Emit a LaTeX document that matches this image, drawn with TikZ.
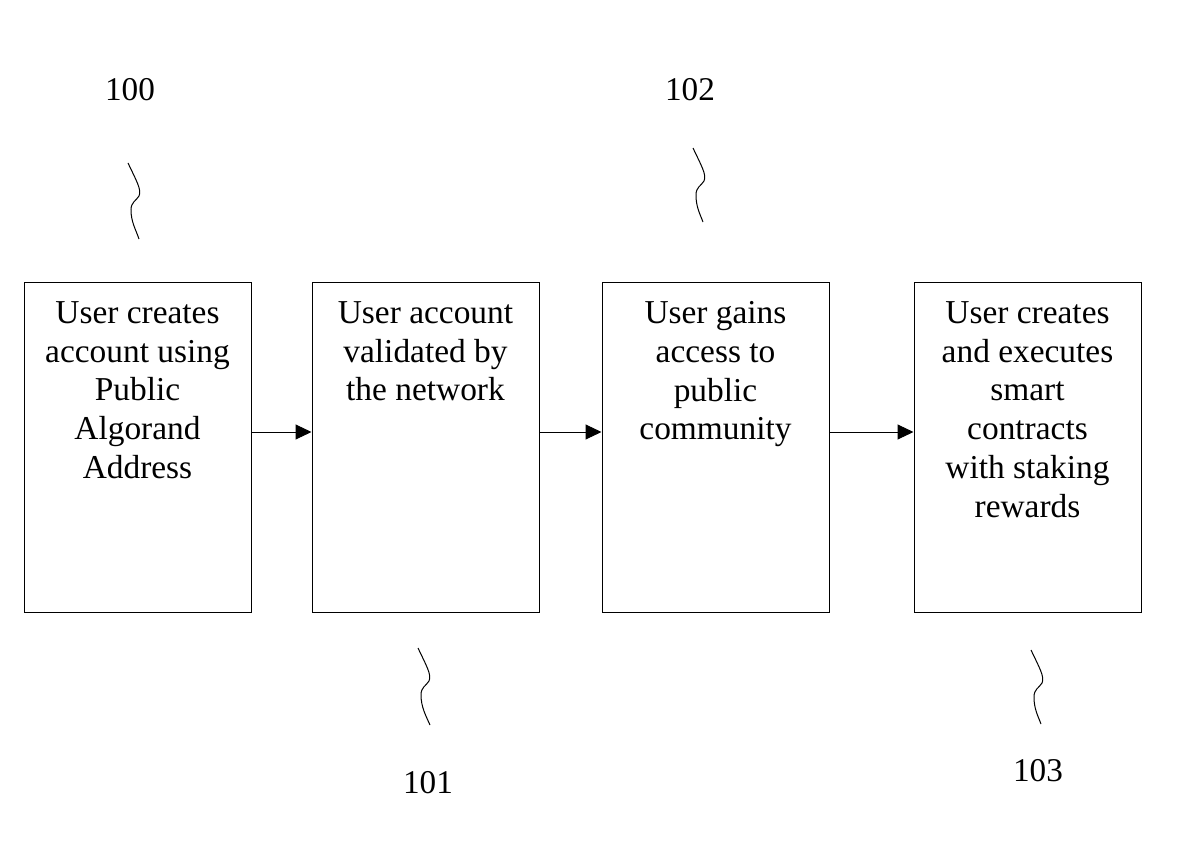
\documentclass[tikz,border=0pt]{standalone}
\usepackage{fontspec}
\setmainfont{Liberation Serif}
\usetikzlibrary{arrows.meta}

\tikzset{
  stepbox/.style={draw, line width=0.5pt, minimum width=113.5pt, minimum height=165pt, inner sep=0pt},
  steptext/.style={anchor=north, align=center, inner sep=0pt, font=\fontsize{16.7}{19.4}\selectfont},
  reflabel/.style={font=\fontsize{16.6}{19.35}\selectfont, inner sep=0pt},
  flow/.style={line width=0.5pt, -{Triangle[length=8pt,width=7.5pt]}},
  squiggle/.style={line width=0.5pt}
}

\begin{document}
\begin{tikzpicture}[x=0.5pt, y=-0.5pt]
        \useasboundingbox (0,0) rectangle (1190,856);
        % steps
        \node[stepbox] (s100) at (137.5,447) {};
        \node[stepbox] (s101) at (425.5,447) {};
        \node[stepbox] (s102) at (715.5,447) {};
        \node[stepbox] (s103) at (1027.5,447) {};
        \node[steptext] (t100) at (137.5,301) {User creates\\account using\\Public\\Algorand\\Address};
        \node[steptext] (t101) at (425.5,301) {User account\\validated by\\the network};
        \node[steptext] (t102) at (715.5,301) {User gains\\access to\\public\\community};
        \node[steptext] (t103) at (1027.5,301) {User creates\\and executes\\smart\\contracts\\with staking\\rewards};
        % flow
        \draw[flow] ([yshift=7.5pt]s100.east) -- ([yshift=7.5pt]s101.west);
        \draw[flow] ([yshift=7.5pt]s101.east) -- ([yshift=7.5pt]s102.west);
        \draw[flow] ([yshift=7.5pt]s102.east) -- ([yshift=7.5pt]s103.west);
        % reference numerals
        \node[reflabel] (n100) at (130,90) {100};
        \node[reflabel] (n102) at (690,90) {102};
        \node[reflabel] (n101) at (428,783) {101};
        \node[reflabel] (n103) at (1038,771) {103};
        \draw[squiggle] (128,163) .. controls (136,180) and (142,190) .. (139,196)
            .. controls (136,201) and (131,202) .. (131,210) .. controls (131,222) and (136,230) .. (139,239);
        \draw[squiggle] (693,148) .. controls (701,165) and (707,175) .. (704,181)
            .. controls (701,186) and (696,187) .. (696,195) .. controls (696,207) and (700,214) .. (703,222);
        \draw[squiggle] (418,648) .. controls (426,665) and (432,675) .. (429,681)
            .. controls (426,686) and (421,687) .. (421,695) .. controls (421,707) and (426,716) .. (430,725);
        \draw[squiggle] (1031,650) .. controls (1039,667) and (1045,677) .. (1042,683)
            .. controls (1039,688) and (1034,689) .. (1034,697) .. controls (1034,709) and (1038,716) .. (1041,724);
\end{tikzpicture}
\end{document}
